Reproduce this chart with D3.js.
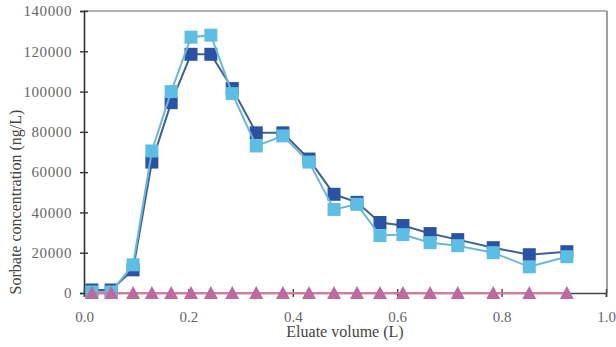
<!DOCTYPE html>
<html>
<head>
<meta charset="utf-8">
<script src="https://cdn.jsdelivr.net/npm/d3@7"></script>
<style>
  html, body { margin: 0; padding: 0; background: #fff; }
  svg { display: block; }
  text { font-family: "Liberation Serif", "Times New Roman", serif; }
</style>
</head>
<body>
<svg id="chart" width="616" height="347"></svg>
<script>
// Eluate volume (L) at each sampled fraction
const volume = [0.015, 0.052, 0.094, 0.130, 0.167, 0.205, 0.243, 0.284, 0.330, 0.381,
                0.431, 0.479, 0.523, 0.567, 0.611, 0.663, 0.716, 0.784, 0.853, 0.925];
// Sorbate concentration (ng/L) per series
const seriesDark  = [1500, 1500, 11500, 65000, 94500, 118500, 118500, 101500, 79500, 79500,
                     66500, 49000, 45000, 35000, 33500, 29500, 26500, 22500, 19000, 20500];
const seriesLight = [500, 500, 14000, 70500, 100000, 127000, 128000, 99000, 73000, 78000,
                     65000, 41500, 44000, 28500, 29000, 25000, 23500, 20000, 13000, 18000];
const seriesBlank = [0, 0, 0, 0, 0, 0, 0, 0, 0, 0, 0, 0, 0, 0, 0, 0, 0, 0, 0, 0];

const xTicks = [0, 0.2, 0.4, 0.6, 0.8, 1.0];
const yTicks = [0, 20000, 40000, 60000, 80000, 100000, 120000, 140000];

const plotL = 84, plotR = 606, plotT = 11, plotB = 293;
const svg = d3.select("#chart");

const x = d3.scaleLinear().domain([0, 1]).range([plotL, plotR]);
const y = d3.scaleLinear().domain([0, 140000]).range([plotB, plotT]);

// frame: light top and right edges
svg.append("line").attr("x1", plotL).attr("x2", plotR + 1).attr("y1", plotT).attr("y2", plotT)
  .attr("stroke", "#9a9a9a").attr("stroke-width", 1.6);
svg.append("line").attr("x1", plotR + 1).attr("x2", plotR + 1).attr("y1", plotT).attr("y2", plotB)
  .attr("stroke", "#777").attr("stroke-width", 1.4);

// y axis
const yAxis = svg.append("g").attr("transform", `translate(${plotL},0)`)
  .call(d3.axisLeft(y).tickValues(yTicks).tickFormat(d3.format("d")).tickSize(4).tickPadding(8));
yAxis.select(".domain").attr("stroke", "#333").attr("stroke-width", 1.6);
yAxis.selectAll(".tick line").attr("x1", -4).attr("x2", 4).attr("stroke", "#333").attr("stroke-width", 1.4);
yAxis.selectAll(".tick text")
  .attr("font-family", "'Liberation Serif', serif").attr("font-size", 15)
  .attr("letter-spacing", 0.6).attr("fill", "#666");

// x axis
const xAxis = svg.append("g").attr("transform", `translate(0,${plotB})`)
  .call(d3.axisBottom(x).tickValues(xTicks).tickFormat(d3.format(".1f")).tickSize(4).tickPadding(14));
xAxis.select(".domain").attr("stroke", "#444").attr("stroke-width", 1.6);
xAxis.selectAll(".tick line").attr("y1", -4).attr("y2", 4).attr("stroke", "#444").attr("stroke-width", 1.4);
xAxis.selectAll(".tick text")
  .attr("font-family", "'Liberation Serif', serif").attr("font-size", 15).attr("fill", "#666");

// axis titles
svg.append("text").attr("x", (x(0) + x(1)) / 2).attr("y", 337).attr("text-anchor", "middle")
  .attr("font-size", 16).attr("fill", "#444").text("Eluate volume (L)");
svg.append("text").attr("transform", `translate(21,${(plotT + plotB) / 2 + 50}) rotate(-90)`)
  .attr("text-anchor", "middle").attr("font-size", 16).attr("fill", "#444")
  .text("Sorbate concentration (ng/L)");

const line = d3.line().x((d, i) => x(volume[i])).y(d => y(d));
const sq = 13;

function drawSquares(values, lineColor, fill) {
  svg.append("path").datum(values).attr("d", line)
    .attr("fill", "none").attr("stroke", lineColor).attr("stroke-width", 2);
  svg.append("g").selectAll("rect").data(values).join("rect")
    .attr("x", (d, i) => x(volume[i]) - sq / 2).attr("y", d => y(d) - sq / 2)
    .attr("width", sq).attr("height", sq).attr("fill", fill);
}

drawSquares(seriesDark, "#40618f", "#2a54a3");
drawSquares(seriesLight, "#6db5dc", "#5dbde2");

// blank series: triangles on the baseline
svg.append("path").datum(seriesBlank).attr("d", line)
  .attr("fill", "none").attr("stroke", "#d97a9c").attr("stroke-width", 2);
svg.append("g").selectAll("path").data(seriesBlank).join("path")
  .attr("transform", (d, i) => `translate(${x(volume[i])},${y(d)})`)
  .attr("d", "M0,-7 L7,6 L-7,6 Z").attr("fill", "#bb6b9d");
</script>
</body>
</html>
